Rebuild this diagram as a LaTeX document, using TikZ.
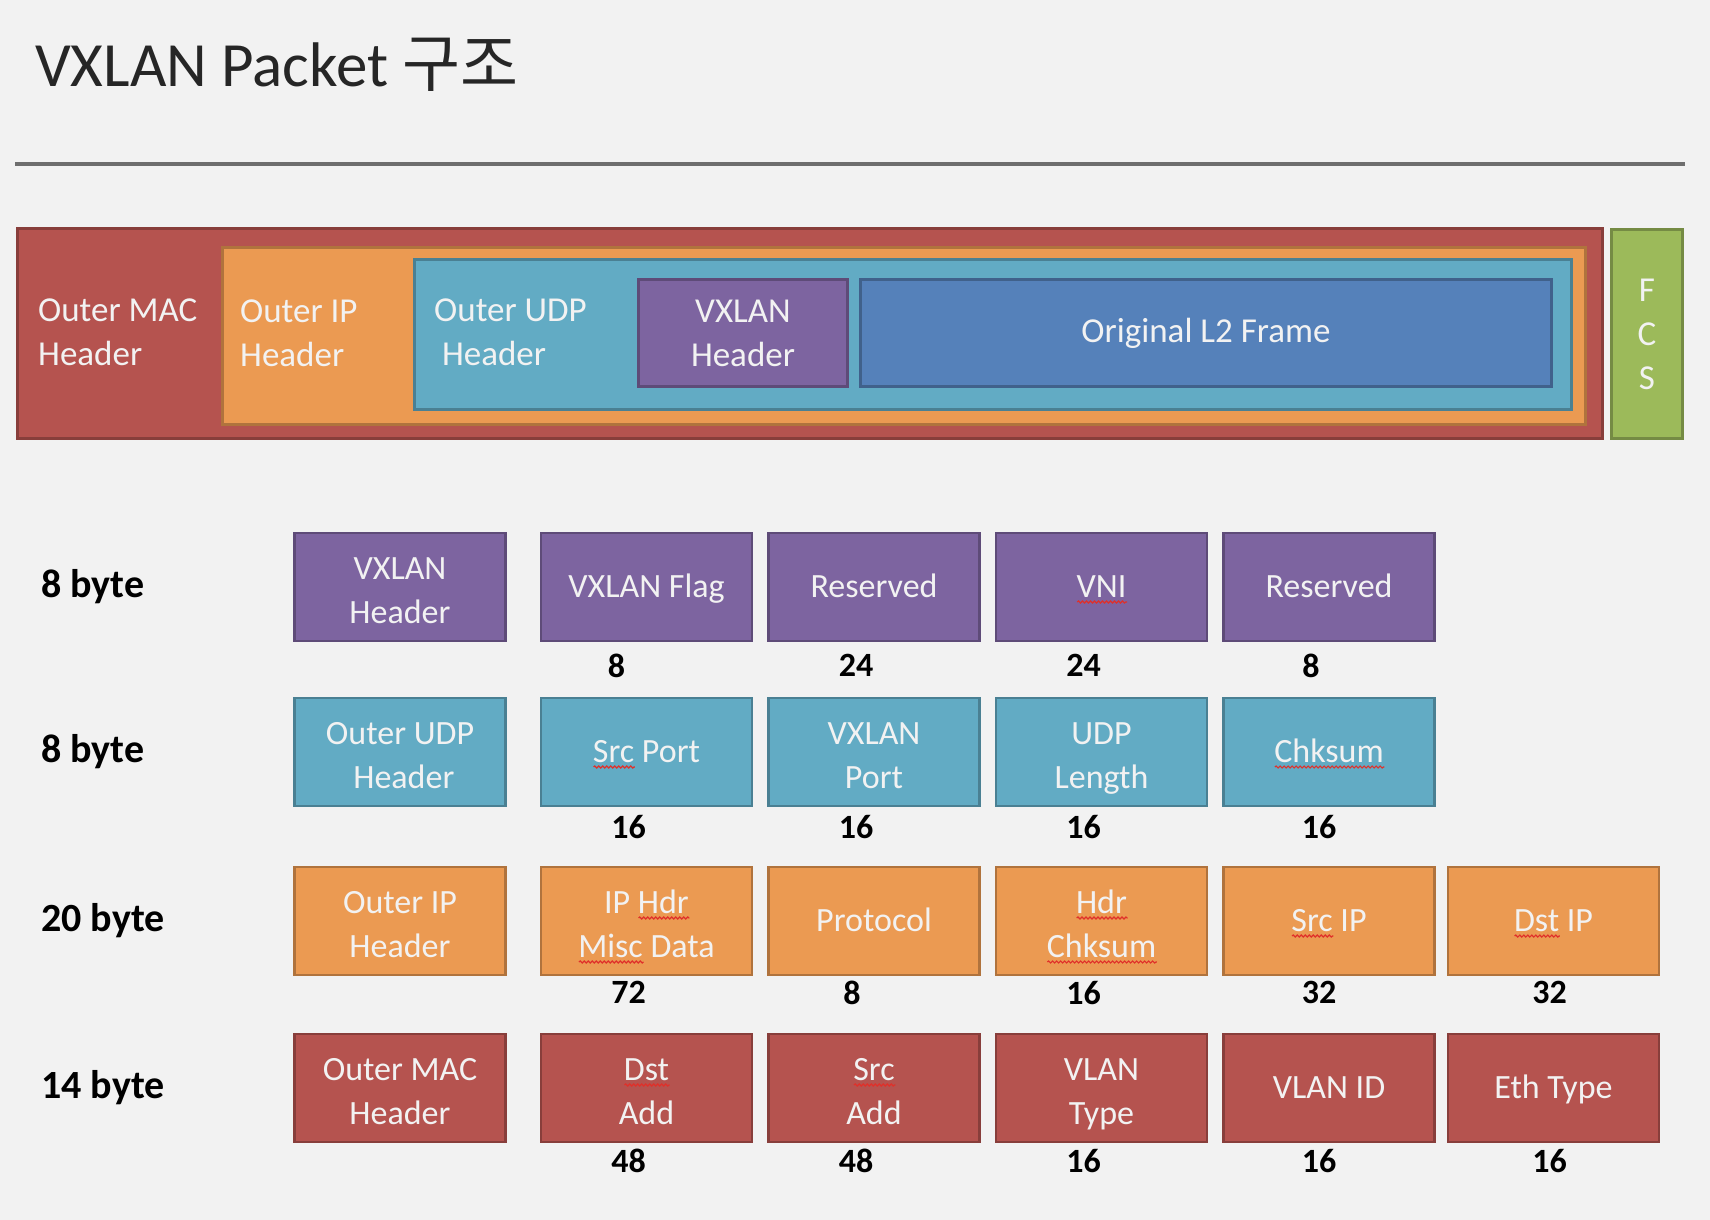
\documentclass[tikz,border=0pt]{standalone}
\usepackage{fontspec}
\setmainfont{Carlito}
\newfontfamily\krfont{Noto Sans CJK KR}
\usetikzlibrary{positioning, decorations.pathmorphing}

\definecolor{pagegray}{HTML}{F2F2F2}
\definecolor{rulegray}{HTML}{6E6E6E}
\definecolor{titlegray}{HTML}{262626}
\definecolor{macred}{HTML}{B5534F}
\definecolor{iporange}{HTML}{EB9A52}
\definecolor{udpteal}{HTML}{62ABC4}
\definecolor{vxpurple}{HTML}{7D64A0}
\definecolor{l2blue}{HTML}{5581BA}
\definecolor{fcsgreen}{HTML}{9CBA5A}
\definecolor{spellred}{HTML}{E0302A}

% red wavy spell-check mark under a word
\newsavebox\spellbox
\newcommand\spellerr[1]{\sbox\spellbox{#1}\rlap{\tikz[baseline=0pt]\draw[spellred, line width=1.2pt,
  decorate, decoration={snake, amplitude=1pt, segment length=4pt}] (0pt,-5pt) -- (\wd\spellbox,-5pt);}#1}
% first line of a two-line field
\newcommand\topstrut{\rule{0pt}{36pt}}

\tikzset{
  wrap/.style={draw=#1!75!black, fill=#1, line width=3pt, anchor=north west, inner sep=0pt,
    text=pagegray, align=center, font=\fontsize{35}{44}\selectfont},
  wraptext/.style={text=pagegray, align=left, anchor=west, inner sep=0pt, font=\fontsize{35}{44}\selectfont},
  field/.style={draw=#1!75!black, fill=#1, line width=2.5pt, minimum width=211pt, minimum height=108pt,
    inner sep=0pt, text=pagegray, align=center, font=\fontsize{34}{44}\selectfont,
    execute at end node={\rule[-8pt]{0pt}{36pt}}},
  bits/.style={anchor=north, inner sep=0pt, xshift=-18pt, yshift=-10pt, font=\bfseries\fontsize{34}{40}\selectfont},
  rowlabel/.style={anchor=west, inner sep=0pt, font=\bfseries\fontsize{40}{48}\selectfont},
}

\begin{document}
\begin{tikzpicture}[x=1pt, y=-1pt]
  \fill[pagegray] (0,0) rectangle (1710,1220);
  \useasboundingbox (0,0) rectangle (1710,1220);

  % title
  \node[anchor=base west, inner sep=0pt, text=titlegray, font=\fontsize{63}{74}\selectfont] (title)
    at (35,87) {VXLAN Packet {\krfont 구조}};
  \draw[rulegray, line width=4pt] (15,164) -- (1685,164);

  % encapsulated packet
  \node[wrap=macred, minimum width=1585pt, minimum height=210pt] (mac) at (16,227) {};
  \node[wrap=iporange, minimum width=1363pt, minimum height=177pt] (ip) at (221,246) {};
  \node[wrap=udpteal, minimum width=1157pt, minimum height=150pt] (udp) at (413,258) {};
  \node[wrap=vxpurple, minimum width=209pt, minimum height=107pt] (vxh) at (637,278) {VXLAN\\Header};
  \node[wrap=l2blue, minimum width=691pt, minimum height=107pt] (l2) at (859,278) {Original L2 Frame};
  \node[wrap=fcsgreen, minimum width=71pt, minimum height=209pt] (fcs) at (1610,228) {F\\C\\S};
  \node[wraptext] (macl) at (38,332) {Outer MAC\\Header};
  \node[wraptext] (ipl) at (240,333) {Outer IP\\Header};
  \node[wraptext] (udpl) at (434,332) {Outer UDP\\\ Header};

  % VXLAN header
  \node[rowlabel] (r1) at (41,587) {8 byte};
  \node[field=vxpurple] (vx0) at (400,587) {\topstrut VXLAN\\Header};
  \node[field=vxpurple, right=33pt of vx0] (vx1) {VXLAN Flag};
  \node[field=vxpurple, right=14pt of vx1] (vx2) {Reserved};
  \node[field=vxpurple, right=14pt of vx2] (vx3) {\spellerr{VNI}};
  \node[field=vxpurple, right=14pt of vx3] (vx4) {Reserved};
  \node[bits, xshift=-12pt, yshift=-2pt] (vx1n) at (vx1.south) {8};
  \node[bits, yshift=-2pt] (vx2n) at (vx2.south) {24};
  \node[bits, yshift=-2pt] (vx3n) at (vx3.south) {24};
  \node[bits, yshift=-2pt] (vx4n) at (vx4.south) {8};

  % outer UDP header
  \node[rowlabel] (r2) at (41,752) {8 byte};
  \node[field=udpteal] (ud0) at (400,752) {\topstrut Outer UDP\\\ Header};
  \node[field=udpteal, right=33pt of ud0] (ud1) {\spellerr{Src} Port};
  \node[field=udpteal, right=14pt of ud1] (ud2) {\topstrut VXLAN\\Port};
  \node[field=udpteal, right=14pt of ud2] (ud3) {\topstrut UDP\\Length};
  \node[field=udpteal, right=14pt of ud3] (ud4) {\spellerr{Chksum}};
  \node[bits, yshift=2pt] (ud1n) at (ud1.south) {16};
  \node[bits, yshift=2pt] (ud2n) at (ud2.south) {16};
  \node[bits, yshift=2pt] (ud3n) at (ud3.south) {16};
  \node[bits, xshift=8pt, yshift=2pt] (ud4n) at (ud4.south) {16};

  % outer IP header
  \node[rowlabel] (r3) at (41,921) {20 byte};
  \node[field=iporange] (ip0) at (400,921) {\topstrut Outer IP\\Header};
  \node[field=iporange, right=33pt of ip0] (ip1) {\topstrut IP \spellerr{Hdr}\\\spellerr{Misc} Data};
  \node[field=iporange, right=14pt of ip1] (ip2) {Protocol};
  \node[field=iporange, right=14pt of ip2] (ip3) {\topstrut\spellerr{Hdr}\\\spellerr{Chksum}};
  \node[field=iporange, right=14pt of ip3] (ip4) {\spellerr{Src} IP};
  \node[field=iporange, right=11pt of ip4] (ip5) {\spellerr{Dst} IP};
  \node[bits, yshift=5pt] (ip1n) at (ip1.south) {72};
  \node[bits, xshift=-4pt, yshift=5pt] (ip2n) at (ip2.south) {8};
  \node[bits, yshift=5pt] (ip3n) at (ip3.south) {16};
  \node[bits, xshift=8pt, yshift=5pt] (ip4n) at (ip4.south) {32};
  \node[bits, xshift=14pt, yshift=5pt] (ip5n) at (ip5.south) {32};

  % outer MAC header
  \node[rowlabel] (r4) at (41,1088) {14 byte};
  \node[field=macred] (mc0) at (400,1088) {\topstrut Outer MAC\\Header};
  \node[field=macred, right=33pt of mc0] (mc1) {\topstrut\spellerr{Dst}\\Add};
  \node[field=macred, right=14pt of mc1] (mc2) {\topstrut\spellerr{Src}\\Add};
  \node[field=macred, right=14pt of mc2] (mc3) {\topstrut VLAN\\Type};
  \node[field=macred, right=14pt of mc3] (mc4) {VLAN ID};
  \node[field=macred, right=11pt of mc4] (mc5) {Eth Type};
  \node[bits, yshift=4pt] (mc1n) at (mc1.south) {48};
  \node[bits, yshift=4pt] (mc2n) at (mc2.south) {48};
  \node[bits, yshift=4pt] (mc3n) at (mc3.south) {16};
  \node[bits, xshift=8pt, yshift=4pt] (mc4n) at (mc4.south) {16};
  \node[bits, xshift=14pt, yshift=4pt] (mc5n) at (mc5.south) {16};
\end{tikzpicture}
\end{document}
